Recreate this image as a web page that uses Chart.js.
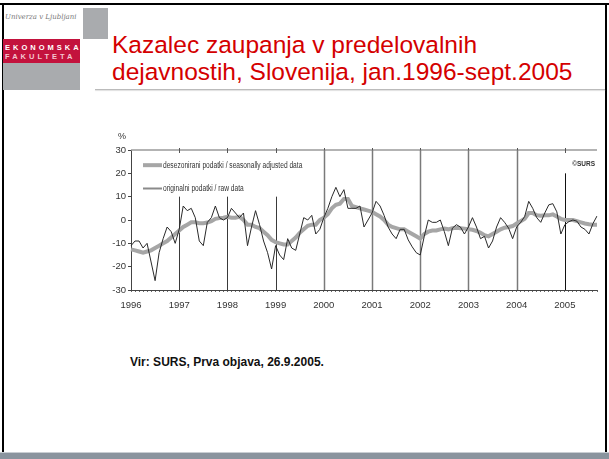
<!DOCTYPE html>
<html>
<head>
<meta charset="utf-8">
<script src="https://cdn.jsdelivr.net/npm/chart.js@4"></script>
<style>
  html, body { margin: 0; padding: 0; background: #fff; }
  #slide { position: relative; width: 609px; height: 459px; overflow: hidden; background: #fff; }
  .frame { position: absolute; background: #000; }
  #uni { position: absolute; left: 5px; top: 13px; font: italic 7px "DejaVu Serif", serif; color: #777; }
  #graybox { position: absolute; left: 83px; top: 8px; width: 25px; height: 31px; background: #a9abae; }
  #redbox { position: absolute; left: 3px; top: 39px; width: 77px; height: 24px; background: #c3123d; }
  #redbox div { position: absolute; left: 2px; font: bold 7.5px "Liberation Sans", Arial, sans-serif; letter-spacing: 3px; }
  #graybox2 { position: absolute; left: 3px; top: 63px; width: 77px; height: 27px; background: #a9abae; }
  #title { position: absolute; left: 112px; top: 31px; font: 24.5px "Liberation Sans", Arial, sans-serif; line-height: 27px; color: #d40000; }
  #rule { position: absolute; left: 95px; top: 89px; width: 510px; height: 1px; background: #bbb; box-shadow: 0 1px 1px #ddd; }
  #chartBox { position: absolute; left: 100px; top: 130px; width: 505px; height: 190px; }
  #source { position: absolute; left: 130px; top: 355px; font: bold 12px "Liberation Sans", Arial, sans-serif; color: #111; }
  #footer { position: absolute; left: 0; top: 452px; width: 609px; height: 7px; background: #8a949e; border-top: 1px solid #c9ced3; }
</style>
</head>
<body>
<div id="slide">
  <div class="frame" style="left:0;top:3px;width:609px;height:2px"></div>
  <div class="frame" style="left:2px;top:3px;width:2px;height:456px"></div>
  <div class="frame" style="left:605px;top:3px;width:2px;height:449px"></div>
  <div id="uni">Univerza v Ljubljani</div>
  <div id="graybox"></div>
  <div id="redbox">
    <div style="top:4px;color:#fff">EKONOMSKA</div>
    <div style="top:13px;color:#f3c6d0">FAKULTETA</div>
  </div>
  <div id="graybox2"></div>
  <div id="title">Kazalec zaupanja v predelovalnih<br>dejavnostih, Slovenija, jan.1996-sept.2005</div>
  <div id="rule"></div>
  <div id="chartBox"><canvas id="chart" width="505" height="190"></canvas></div>
  <div id="source">Vir: SURS, Prva objava, 26.9.2005.</div>
  <div id="footer"></div>
</div>
<script>
"use strict";

const years = [1996, 1997, 1998, 1999, 2000, 2001, 2002, 2003, 2004, 2005];
const monthsInLastYear = 9;

// originalni podatki / raw data, jan.1996 - sept.2005
const rawData = [
  -11, -9, -9, -12, -10, -18, -26, -14, -8, -3, -5, -10,
  -4, 6, 4, 5, 1, -9, -11, -1, 1, 6, 1, 0,
  1, 5, 3, 1, 3, -11, -3, 4, -2, -9, -14, -21,
  -11, -15, -17, -8, -12, -13, -6, 1, 0, 2, -6, -4,
  1, 5, 10, 14, 10, 13, 5, 5, 5, 6, -3, 0,
  3, 8, 6, 2, -3, -6, -8, -4, -4, -8.5, -11.5, -14,
  -15, -7, 0, -1, -1, 0, -5, -11, -3.5, -2, -3, -6,
  -3, 1, -3, -8, -7, -12, -9, -3, 1, -1, -3.5, -8,
  -3, -1, 1.5, 8, 5, 1, -1, 3, 6.5, 7, 3.5, -6,
  -2, -0.7, 0, -0.5, -3, -4, -6, -1.5, 1.7
];

// desezonirani podatki / seasonally adjusted data
const adjustedData = [
  -12.6, -13, -13.5, -14, -13.5, -13, -12, -11, -10, -9, -7.5, -6,
  -4.5, -3, -2, -1, -1, -1.4, -1.4, -1.1, -0.5, 0.5, 0.8, 1,
  1.4, 1, 1, 1.4, 0, -2, -2, -3, -3.5, -5, -6.5, -8.5,
  -9.5, -10, -10.5, -10.5, -9, -7.5, -5.5, -4, -2.5, -2, -2, 0,
  1, 2.5, 5, 6.5, 7, 9, 9, 6, 5.5, 5, 4.5, 4,
  3.5, 2.5, 1.5, 0, -2, -3, -3.5, -4, -4, -5, -6, -7,
  -8, -6, -5, -4.5, -4.5, -4, -3.7, -4, -3.5, -3.3, -3.5, -3.7,
  -4, -4.2, -4.7, -5.5, -6.5, -7, -6, -5, -4, -3.3, -3, -2.6,
  -1.5, -0.5, 0.5, 3, 3, 2, 1.8, 2, 2, 2.4, 1.5, 0.5,
  0, 0, 0, -0.5, -1, -1.5, -1.8, -2, -2
];

const yTicks = [-30, -20, -10, 0, 10, 20, 30];

// year separator lines: year and value where the line starts
const separatorYears = [1997, 1998, 1999, 2000, 2001, 2002, 2003, 2004, 2005];
const separatorTops = [10, 10, 10, 30, 30, 30, 30, 30, 20];
const separatorColors = ["#3a3a3a", "#3a3a3a", "#3a3a3a", "#7a7a7a", "#7a7a7a", "#7a7a7a", "#7a7a7a", "#7a7a7a", "#111"];

const labels = [];
years.forEach((year, i) => {
  const count = i === years.length - 1 ? monthsInLastYear : 12;
  for (let m = 0; m < count; m++) {
    labels.push(m === 0 ? String(year) : "");
  }
});

const narrowFont = "'Liberation Sans Narrow', 'Arial Narrow', Arial, sans-serif";

// draw text squeezed horizontally, like the condensed font of the original
const narrowText = (ctx, text, x, y, squeeze) => {
  const w = ctx.measureText(text).width;
  ctx.fillText(text, x, y, w * squeeze);
};

const extrasPlugin = {
  id: "extras",
  beforeDatasetsDraw(chart) {
    const { ctx, chartArea, scales } = chart;
    const x = scales.x;
    const y = scales.y;
    ctx.save();
    // top border line
    ctx.strokeStyle = "#9a9a9a";
    ctx.lineWidth = 1.5;
    ctx.beginPath();
    ctx.moveTo(chartArea.left, y.getPixelForValue(30));
    ctx.lineTo(chartArea.right, y.getPixelForValue(30));
    ctx.stroke();
    // small year ticks on the top line
    ctx.strokeStyle = "#555";
    ctx.lineWidth = 1;
    separatorYears.forEach((yr) => {
      const px = Math.round(x.getPixelForValue(labels.indexOf(String(yr)))) + 0.5;
      ctx.beginPath();
      ctx.moveTo(px, y.getPixelForValue(30) - 2);
      ctx.lineTo(px, y.getPixelForValue(30) + 3);
      ctx.stroke();
    });
    // year separators
    separatorYears.forEach((yr, i) => {
      const px = Math.round(x.getPixelForValue(labels.indexOf(String(yr)))) + 0.5;
      ctx.strokeStyle = separatorColors[i];
      ctx.lineWidth = i >= 3 && i <= 7 ? 1.5 : 1;
      ctx.beginPath();
      ctx.moveTo(px, y.getPixelForValue(separatorTops[i]));
      ctx.lineTo(px, y.getPixelForValue(-30));
      ctx.stroke();
    });
    ctx.restore();
  },
  afterDraw(chart) {
    const { ctx, chartArea, scales } = chart;
    const y = scales.y;
    ctx.save();
    // unit
    ctx.fillStyle = "#333";
    ctx.font = "9px " + narrowFont;
    ctx.textAlign = "left";
    ctx.textBaseline = "middle";
    ctx.fillText("%", chartArea.left - 13, chartArea.top - 13);
    // legend inside the plot
    const sets = chart.data.datasets;
    const legendRows = [y.getPixelForValue(23.5), y.getPixelForValue(13.5)];
    const legendOrder = [1, 0];
    legendOrder.forEach((di, row) => {
      const ds = sets[di];
      const ly = legendRows[row];
      ctx.strokeStyle = ds.legendColor;
      ctx.lineWidth = ds.legendWidth;
      ctx.beginPath();
      ctx.moveTo(chartArea.left + 12, ly);
      ctx.lineTo(chartArea.left + 31, ly);
      ctx.stroke();
      ctx.fillStyle = "#333";
      ctx.font = "8.5px " + narrowFont;
      narrowText(ctx, ds.label, chartArea.left + 32, ly, 0.78);
    });
    // copyright
    ctx.textAlign = "right";
    ctx.font = "bold 6.5px " + narrowFont;
    ctx.fillText("\u00a9SURS", chartArea.right - 2, y.getPixelForValue(24));
    ctx.restore();
  }
};

new Chart(document.getElementById("chart"), {
  type: "line",
  data: {
    labels: labels,
    datasets: [
      {
        label: "originalni podatki / raw data",
        data: rawData,
        borderColor: "#2a2a2a",
        borderWidth: 1,
        pointRadius: 0,
        tension: 0,
        order: 0,
        legendColor: "#8a8a8a",
        legendWidth: 2
      },
      {
        label: "desezonirani podatki / seasonally adjusted data",
        data: adjustedData,
        borderColor: "#a6a6a6",
        borderWidth: 4,
        pointRadius: 0,
        tension: 0,
        order: 1,
        legendColor: "#a6a6a6",
        legendWidth: 4
      }
    ]
  },
  options: {
    responsive: false,
    animation: false,
    layout: { padding: { top: 20, right: 5, left: 0, bottom: 0 } },
    plugins: {
      legend: { display: false },
      tooltip: { enabled: false }
    },
    scales: {
      x: {
        type: "category",
        offset: false,
        afterFit: (scale) => { scale.height = 30; },
        grid: {
          display: true,
          drawOnChartArea: false,
          drawTicks: true,
          tickLength: 2,
          color: "#444",
          lineWidth: 0.8
        },
        border: { display: true, color: "#444", width: 1, dash: [2, 1] },
        ticks: {
          autoSkip: false,
          maxRotation: 0,
          minRotation: 0,
          padding: 8,
          color: "#333",
          font: { family: narrowFont, size: 9.5 },
          callback: (value, index) => labels[index]
        }
      },
      y: {
        min: -30,
        max: 30,
        afterFit: (scale) => { scale.width = 31; },
        afterBuildTicks: (scale) => { scale.ticks = yTicks.map((v) => ({ value: v })); },
        grid: {
          display: true,
          drawOnChartArea: false,
          drawTicks: true,
          tickLength: 3,
          color: "#444"
        },
        border: { display: true, color: "#444", width: 1 },
        ticks: {
          padding: 2,
          color: "#333",
          font: { family: narrowFont, size: 9.5 }
        }
      }
    }
  },
  plugins: [extrasPlugin]
});
</script>
</body>
</html>
